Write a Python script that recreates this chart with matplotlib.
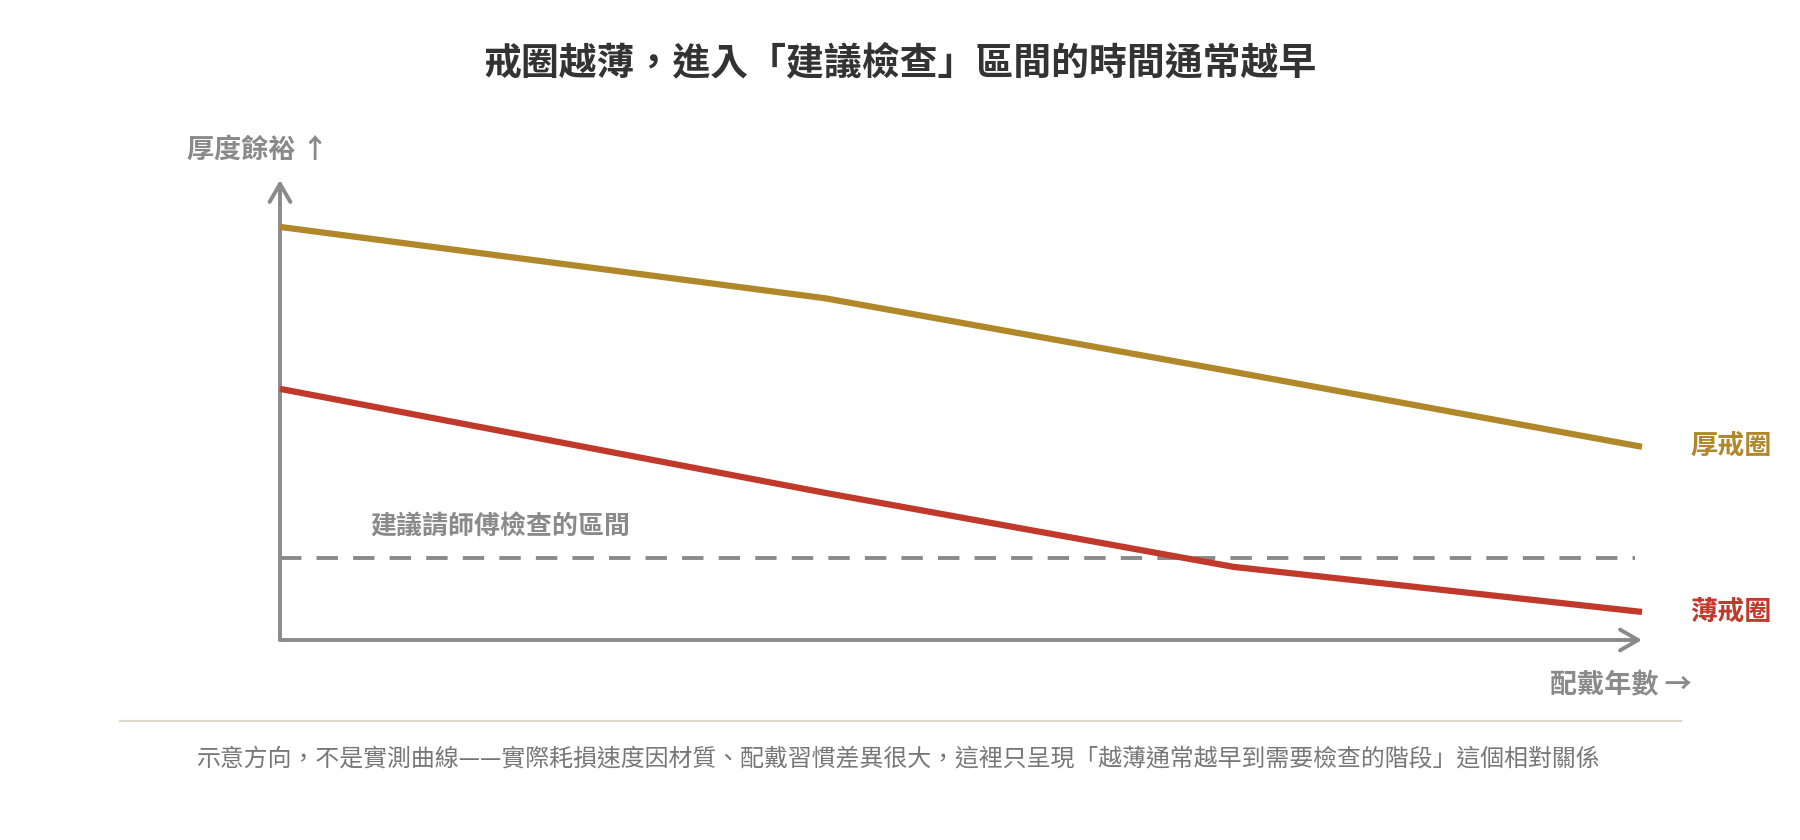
import matplotlib
matplotlib.use("Agg")
import matplotlib.pyplot as plt
from matplotlib.lines import Line2D

plt.rcParams['font.family'] = ['Noto Sans CJK TC', 'DejaVu Sans']

# ---- data (schematic) ----
years = [0, 4, 7, 10]
thick_ring = [89.8, 74.3, 58.3, 42.0]
thin_ring = [54.6, 32.0, 15.9, 6.1]
check_level = 17.8
x_max = 10
y_max = 100

title = "戒圈越薄，進入「建議檢查」區間的時間通常越早"
y_label = "厚度餘裕 ↑"
x_label = "配戴年數 →"
zone_label = "建議請師傅檢查的區間"
thick_label = "厚戒圈"
thin_label = "薄戒圈"
footnote = ("示意方向，不是實測曲線——實際耗損速度因材質、配戴習慣差異很大，"
            "這裡只呈現「越薄通常越早到需要檢查的階段」這個相對關係")

GOLD = "#B0882A"
RED = "#C0392B"
GRAY = "#8A8A8A"
W, H = 1800, 840

fig = plt.figure(figsize=(W / 100, H / 100), dpi=100)
fig.patch.set_facecolor("white")

def fx(px):
    return px / W

def fy(py):
    return 1 - py / H

ax = fig.add_axes([fx(280), fy(640), (1642 - 280) / W, (640 - 180) / H])
ax.set_xlim(0, x_max)
ax.set_ylim(0, y_max)
ax.axis("off")

# axes with arrows
arrow_kw = dict(arrowstyle="->,head_length=1.3,head_width=0.75", color=GRAY,
                lw=2.8, mutation_scale=10, shrinkA=0, shrinkB=0)
ax.annotate("", xy=(0, y_max), xytext=(0, 0), xycoords="data",
            arrowprops=arrow_kw, annotation_clip=False)
ax.annotate("", xy=(x_max, 0), xytext=(0, 0), xycoords="data",
            arrowprops=arrow_kw, annotation_clip=False)

# check threshold
ax.plot([0, x_max * 0.995], [check_level, check_level], color=GRAY, lw=2.8,
        dashes=(5.5, 3.9), dash_capstyle="butt", clip_on=False)

# series
ax.plot(years, thick_ring, color=GOLD, lw=4.5, solid_capstyle="butt",
        solid_joinstyle="round", clip_on=False, zorder=3)
ax.plot(years, thin_ring, color=RED, lw=4.5, solid_capstyle="butt",
        solid_joinstyle="round", clip_on=False, zorder=3)

# series labels
ax.annotate(thick_label, xy=(years[-1], thick_ring[-1]), xytext=(35, 0),
            textcoords="offset points", ha="left", va="center",
            fontsize=19.5, fontweight="bold", color=GOLD, annotation_clip=False)
ax.annotate(thin_label, xy=(years[-1], thin_ring[-1]), xytext=(35, 0),
            textcoords="offset points", ha="left", va="center",
            fontsize=19.5, fontweight="bold", color=RED, annotation_clip=False)

# zone label
ax.annotate(zone_label, xy=(0, check_level), xytext=(65, 23),
            textcoords="offset points", ha="left", va="center",
            fontsize=18.7, fontweight="bold", color=GRAY, annotation_clip=False)

# titles and axis labels
fig.text(fx(900), fy(63), title, ha="center", va="center",
         fontsize=27.3, fontweight="bold", color="#333333")
fig.text(fx(187), fy(150), y_label, ha="left", va="center",
         fontsize=19.5, fontweight="bold", color=GRAY)
fig.text(fx(1692), fy(685), x_label, ha="right", va="center",
         fontsize=19.5, fontweight="bold", color=GRAY)

# divider
fig.add_artist(Line2D([fx(120), fx(1681)], [fy(721), fy(721)],
                      color="#DCD9CC", lw=1.6, transform=fig.transFigure))

fig.text(fx(898), fy(759), footnote, ha="center", va="center",
         fontsize=17.2, color="#777777")

fig.savefig("out.png", dpi=100, facecolor="white")
